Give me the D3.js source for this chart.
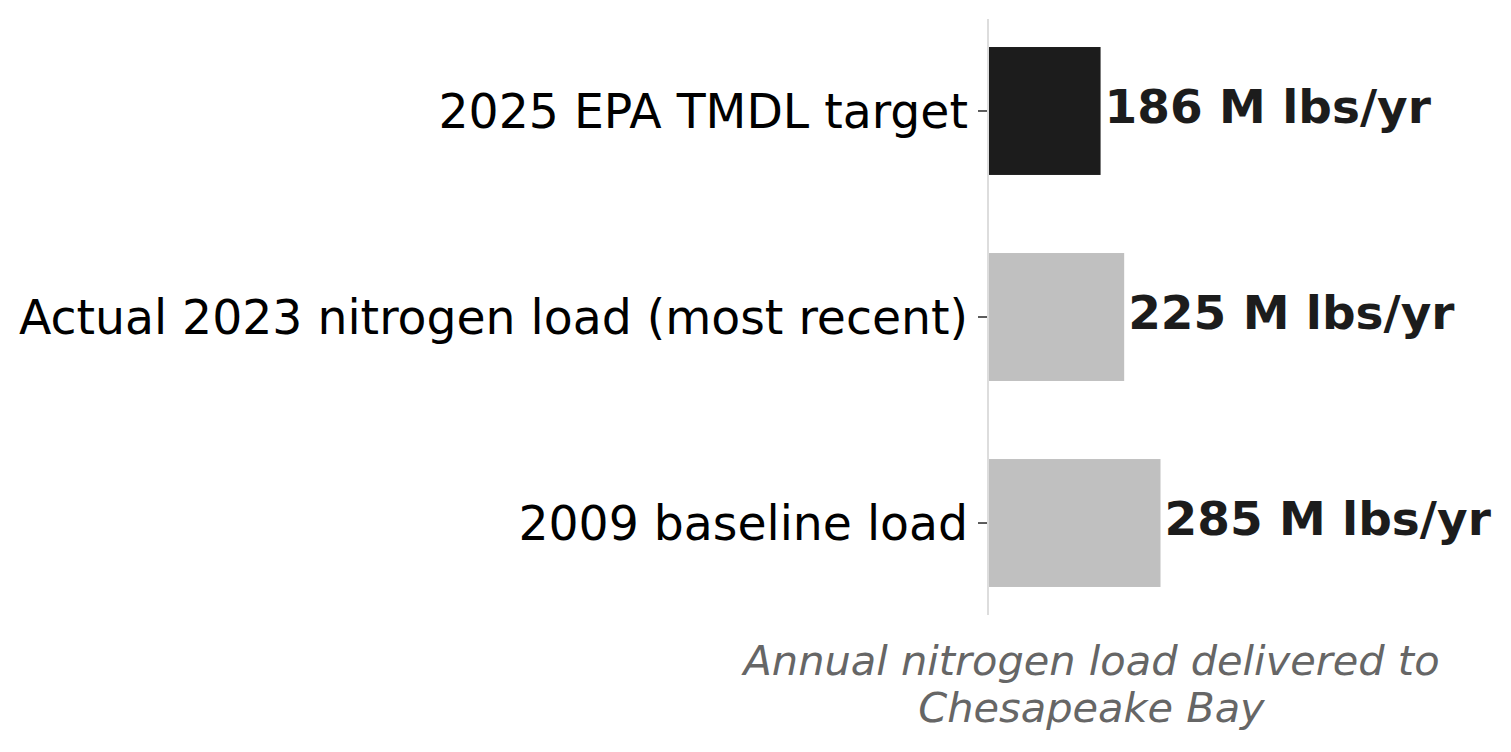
<!DOCTYPE html>
<html>
<head>
<meta charset="utf-8">
<script src="https://cdn.jsdelivr.net/npm/d3@7"></script>
<style>
  body { margin: 0; background: #fff; }
  svg { display: block; font-family: "DejaVu Sans", sans-serif; }
</style>
</head>
<body>
<script>
// data, top bar first
var categories = ['2025 EPA TMDL target', 'Actual 2023 nitrogen load (most recent)', '2009 baseline load'];
var loads = [186, 225, 285];
var barColors = ['#1c1c1c', '#c0c0c0', '#c0c0c0'];
var valueLabels = ['186 M lbs/yr', '225 M lbs/yr', '285 M lbs/yr'];
var axisTitle = ['Annual nitrogen load delivered to', 'Chesapeake Bay'];

function init(){
	var width = 1511, height = 752;
	var left = 988, right = 1195, top = 19, bottom = 615;

	var svg = d3.select('body').append('svg').attr('width', width).attr('height', height);

	var x = d3.scaleLinear().domain([0, d3.max(loads) * 1.2]).range([left, right]);
	var y = d3.scaleBand().domain(categories).range([top, bottom])
			.paddingInner(0.379).paddingOuter(0.136);

	var rows = categories.map(function(c, i){
		return {cat: c, v: loads[i], color: barColors[i], label: valueLabels[i]};
	});

	svg.selectAll('rect.bar').data(rows).enter().append('rect')
			.attr('class', 'bar')
			.attr('x', x(0))
			.attr('y', function(d){ return y(d.cat); })
			.attr('width', function(d){ return x(d.v) - x(0); })
			.attr('height', y.bandwidth())
			.attr('fill', function(d){ return d.color; });

	// left spine
	svg.append('line')
			.attr('x1', left).attr('x2', left)
			.attr('y1', top).attr('y2', bottom)
			.attr('stroke', '#dddddd').attr('stroke-width', 2);

	// y axis ticks and labels
	var yAxis = d3.axisLeft(y).tickSize(9).tickPadding(10);
	var g = svg.append('g').attr('transform', 'translate(' + (left - 1) + ',0)').call(yAxis);
	g.select('.domain').remove();
	g.selectAll('.tick line').attr('stroke', '#333').attr('stroke-width', 1.6);
	g.selectAll('.tick text')
			.attr('dy', null)
			.attr('y', 17)
			.attr('fill', '#000')
			.style('font-size', '47.3px')
			.style('font-family', '"DejaVu Sans", sans-serif');

	// value labels
	svg.selectAll('text.val').data(rows).enter().append('text')
			.attr('class', 'val')
			.attr('x', function(d){ return x(d.v) + 4; })
			.attr('y', function(d){ return y(d.cat) + y.bandwidth() / 2 + 12; })
			.attr('fill', '#1c1c1c')
			.style('font-weight', 'bold')
			.style('font-size', '47px')
			.text(function(d){ return d.label; });

	// x axis title
	svg.selectAll('text.xt').data(axisTitle).enter().append('text')
			.attr('class', 'xt')
			.attr('x', (left + right) / 2)
			.attr('y', function(d, i){ return 675 + i * 47; })
			.attr('text-anchor', 'middle')
			.attr('fill', '#666666')
			.style('font-style', 'italic')
			.style('font-size', '41.5px')
			.text(function(d){ return d; });
}
init();
</script>
</body>
</html>
